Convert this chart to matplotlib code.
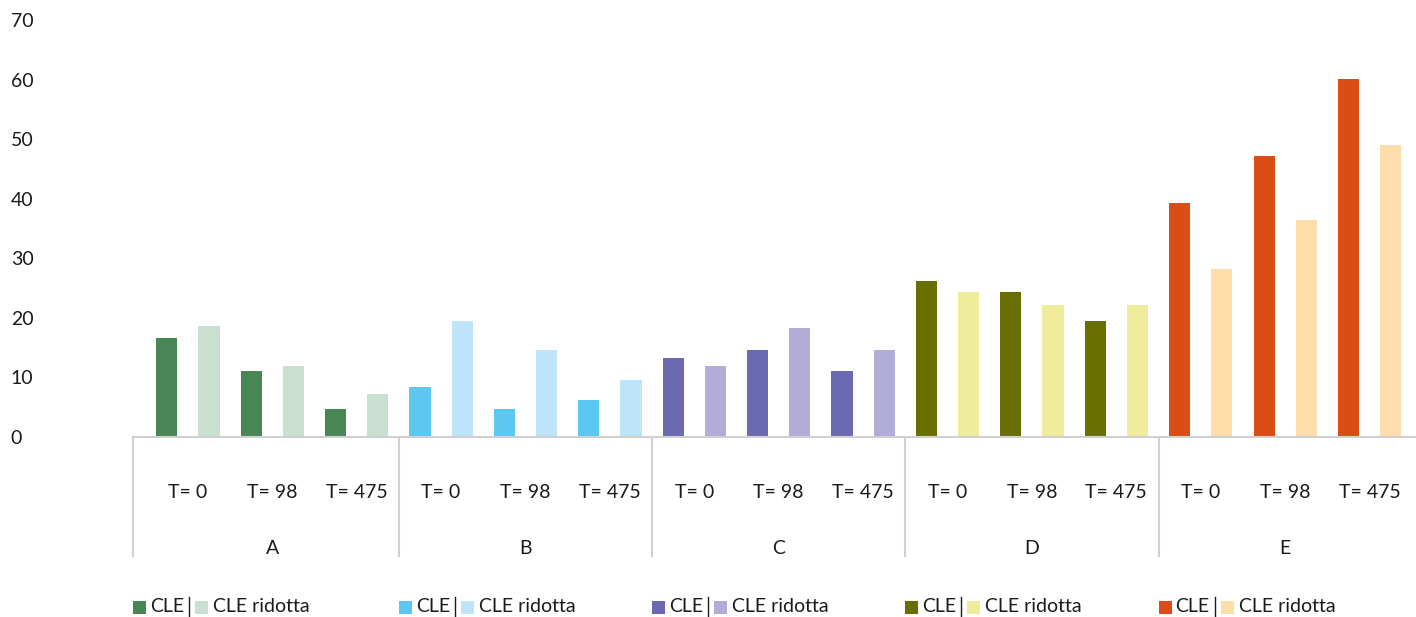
import matplotlib.pyplot as plt
from matplotlib.patches import Rectangle
from matplotlib.transforms import blended_transform_factory

plt.rcParams['font.family'] = ['Lato', 'DejaVu Sans']

groups = ['A', 'B', 'C', 'D', 'E']
times = ['T= 0', 'T= 98', 'T= 475']

cle = [
    [16.7, 11.0, 4.7],
    [8.4, 4.7, 6.2],
    [13.3, 14.6, 11.1],
    [26.2, 24.4, 19.5],
    [39.2, 47.2, 60.1],
]
cle_ridotta = [
    [18.6, 11.9, 7.2],
    [19.5, 14.6, 9.6],
    [12.0, 18.3, 14.6],
    [24.3, 22.1, 22.1],
    [28.2, 36.4, 49.0],
]

dark = ['#488656', '#5cc7f2', '#6b69af', '#686f00', '#da4e15']
light = ['#c9e0d0', '#bee4f9', '#b2acd8', '#eeeb9b', '#fddeab']

GRID = '#d0d0d0'
TXT = '#1a1a1a'
FS = 14
W, H = 1416, 617

fig = plt.figure(figsize=(W / 100, H / 100), dpi=100)
ax = fig.add_axes([133 / W, 1 - 437 / H, 1 - 133 / W, (437 - 20) / H])

n_t = len(times)
for g in range(len(groups)):
    for t in range(n_t):
        k = g * n_t + t
        ax.bar(k + 0.25, cle[g][t], width=0.25, color=dark[g], zorder=2)
        ax.bar(k + 0.75, cle_ridotta[g][t], width=0.25, color=light[g], zorder=2)

ax.set_xlim(-0.15, len(groups) * n_t + 0.05)
ax.set_ylim(0, 70)
ax.set_yticks(range(0, 71, 10))
ax.tick_params(axis='y', length=0, pad=88, labelsize=FS, labelcolor=TXT)
for lab in ax.get_yticklabels():
    lab.set_horizontalalignment('left')
ax.set_xticks([])
for s in ['top', 'right', 'left']:
    ax.spines[s].set_visible(False)
ax.spines['bottom'].set_color(GRID)
ax.spines['bottom'].set_linewidth(1.5)

# two-level category axis under the bars
tr = blended_transform_factory(ax.transData, fig.transFigure)
y_axis = 1 - 437 / H
y_time = 1 - 492 / H
y_group = 1 - 549 / H
y_sep_bot = 1 - 556 / H

edges = [-0.15] + [g * n_t for g in range(1, len(groups))]
for x in edges:
    fig.add_artist(plt.Line2D([x, x], [y_axis, y_sep_bot], transform=tr,
                              color=GRID, lw=1.5))

for g, name in enumerate(groups):
    for t, lab in enumerate(times):
        fig.text(g * n_t + t + 0.5, y_time, lab, transform=tr, ha='center',
                 va='center', fontsize=FS, color=TXT)
    fig.text(g * n_t + 1.5, y_group, name, transform=tr, ha='center',
             va='center', fontsize=FS, color=TXT)

# legend row: swatch, "CLE", divider, swatch, "CLE ridotta" under each group
renderer = fig.canvas.get_renderer()
y_leg = H - 607
sq = 13


def put_text(x_px, s, ha='left'):
    t = fig.text(x_px / W, y_leg / H, s, fontsize=FS, color=TXT, ha=ha,
                 va='center')
    return t.get_window_extent(renderer).x1


def put_square(x_px, col):
    fig.add_artist(Rectangle((x_px / W, (y_leg - sq / 2) / H), sq / W, sq / H,
                             transform=fig.transFigure, facecolor=col,
                             edgecolor='none'))
    return x_px + sq


for g in range(len(groups)):
    x0 = ax.transData.transform((edges[g], 0))[0]
    x = put_square(x0, dark[g])
    x = put_text(x + 4, 'CLE')
    fig.add_artist(plt.Line2D([(x + 5) / W] * 2, [(y_leg - 10) / H, (y_leg + 10) / H],
                              transform=fig.transFigure, color=TXT, lw=1))
    x = put_square(x + 11, light[g])
    put_text(x + 5, 'CLE ridotta')

fig.savefig('out.png', dpi=100)
